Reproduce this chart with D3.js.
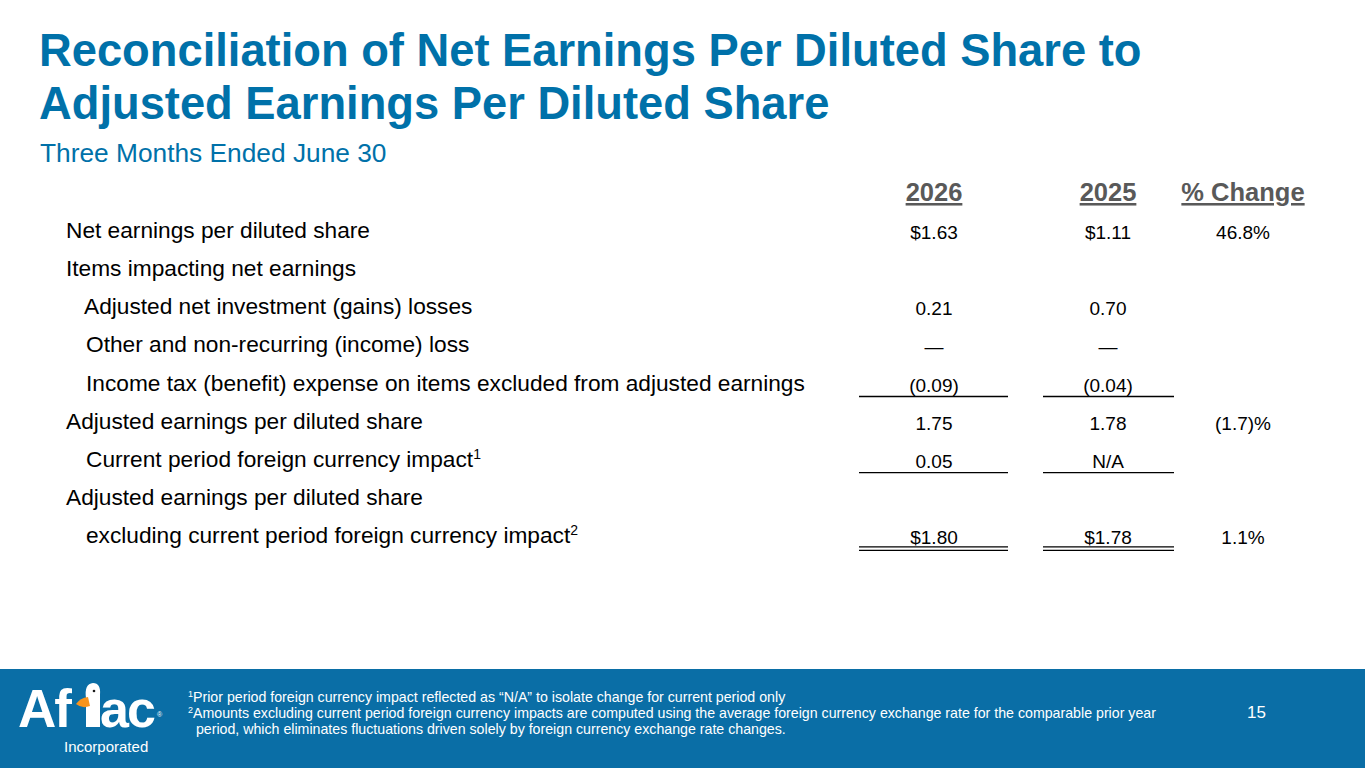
<!doctype html>
<html>
  <head>
    <meta charset="utf-8">
    <title>Reconciliation of Net Earnings Per Diluted Share</title>
    <script src="https://d3js.org/d3.v7.min.js"></script>
    <style>
      body { margin: 0; background: #fff; }
      svg { display: block; font-family: "Liberation Sans", Arial, sans-serif; }
    </style>
  </head>
  <body>
    <script>
      // table content
      const rowLabels = [
        'Net earnings per diluted share',
        'Items impacting net earnings',
        'Adjusted net investment (gains) losses',
        'Other and non-recurring (income) loss',
        'Income tax (benefit) expense on items excluded from adjusted earnings',
        'Adjusted earnings per diluted share',
        'Current period foreign currency impact',
        'Adjusted earnings per diluted share',
        'excluding current period foreign currency impact'
      ];
      const rowIndent = [0, 0, 1, 2, 2, 0, 2, 0, 2];
      const rowNote = ['', '', '', '', '', '', '1', '', '2'];
      const columns = ['2026', '2025', '% Change'];
      const values2026 = ['$1.63', '', '0.21', '\u2014', '(0.09)', '1.75', '0.05', '', '$1.80'];
      const values2025 = ['$1.11', '', '0.70', '\u2014', '(0.04)', '1.78', 'N/A', '', '$1.78'];
      const pctChange = ['46.8%', '', '', '', '', '(1.7)%', '', '', '1.1%'];
      const rowRule = ['', '', '', '', 'single', '', 'single', '', 'double'];

      const footnotes = [
        { n: '1', text: 'Prior period foreign currency impact reflected as \u201cN/A\u201d to isolate change for current period only' },
        { n: '2', text: 'Amounts excluding current period foreign currency impacts are computed using the average foreign currency exchange rate for the comparable prior year' },
        { n: '', text: '  period, which eliminates fluctuations driven solely by foreign currency exchange rate changes.' }
      ];
      const pageNumber = '15';

      const W = 1365, H = 768;
      const blue = '#0071a9';
      const footBlue = '#0a6ea6';

      const svg = d3.select('body').append('svg')
          .attr('width', W)
          .attr('height', H);

      // title
      const title = svg.append('g').attr('fill', blue);
      title.append('text')
          .attr('x', 39).attr('y', 66)
          .attr('font-size', 45.3).attr('font-weight', 'bold')
          .text('Reconciliation of Net Earnings Per Diluted Share to');
      title.append('text')
          .attr('x', 39).attr('y', 119)
          .attr('font-size', 45.3).attr('font-weight', 'bold')
          .text('Adjusted Earnings Per Diluted Share');
      title.append('text')
          .attr('x', 40).attr('y', 162)
          .attr('font-size', 26.3)
          .text('Three Months Ended June 30');

      // scales
      const rows = d3.range(rowLabels.length);
      const y = d3.scaleBand()
          .domain(rows)
          .range([212, 555]);
      const x = d3.scaleOrdinal()
          .domain(columns)
          .range([934, 1108, 1243]);
      const ruleSpan = d3.scaleOrdinal()
          .domain(columns)
          .range([[859, 1008], [1043, 1174], null]);
      const indent = d3.scaleOrdinal().domain([0, 1, 2]).range([66, 84, 86]);
      const base = i => y(i) + y.bandwidth() / 2 + 7;

      // column headers
      svg.append('g')
        .selectAll('text')
        .data(columns)
        .join('text')
          .attr('x', d => x(d))
          .attr('y', 201)
          .attr('text-anchor', 'middle')
          .attr('font-size', 25.5)
          .attr('font-weight', 'bold')
          .attr('fill', '#595959')
          .attr('text-decoration', 'underline')
          .text(d => d);

      // row labels
      const labels = svg.append('g')
        .selectAll('text')
        .data(rows)
        .join('text')
          .attr('x', i => indent(rowIndent[i]))
          .attr('y', i => base(i))
          .attr('font-size', 22.7)
          .attr('fill', '#000');
      labels.append('tspan').text(i => rowLabels[i]);
      labels.append('tspan')
          .attr('dy', -8)
          .attr('font-size', 14)
          .text(i => rowNote[i]);

      // values
      const cols = [values2026, values2025, pctChange];
      columns.forEach((c, ci) => {
        svg.append('g')
          .selectAll('text')
          .data(rows.filter(i => cols[ci][i] !== ''))
          .join('text')
            .attr('x', x(c))
            .attr('y', i => base(i) + 1)
            .attr('text-anchor', 'middle')
            .attr('font-size', 19)
            .attr('fill', '#000')
            .text(i => cols[ci][i]);
      });

      // underline rules
      const ruleG = svg.append('g').attr('stroke', '#000').attr('stroke-width', 1.3);
      rows.filter(i => rowRule[i]).forEach(i => {
        columns.slice(0, 2).forEach(c => {
          const [x0, x1] = ruleSpan(c);
          const ys = rowRule[i] === 'double' ? [base(i) + 4, base(i) + 7.5] : [base(i) + 6];
          ys.forEach(yy => {
            ruleG.append('line')
                .attr('x1', x0).attr('x2', x1)
                .attr('y1', yy).attr('y2', yy);
          });
        });
      });

      // footer band
      const foot = svg.append('g');
      foot.append('rect')
          .attr('x', 0).attr('y', 669)
          .attr('width', W).attr('height', H - 669)
          .attr('fill', footBlue);

      // logo
      const logo = foot.append('g').attr('fill', '#fff');
      logo.append('text')
          .attr('x', 18).attr('y', 727)
          .attr('font-size', 53).attr('font-weight', 'bold')
          .attr('letter-spacing', -2)
          .text('Af');
      // duck forms the "l"
      logo.append('path')
          .attr('d', 'M86,727 L86,698 Q84,684 93,683 Q101,683 100,695 L100,727 Z');
      logo.append('path')
          .attr('d', 'M88,697 Q80,698 76,704 Q82,709 90,706 Z')
          .attr('fill', '#f7941d');
      logo.append('circle')
          .attr('cx', 94).attr('cy', 691).attr('r', 1.3)
          .attr('fill', '#1a1a1a');
      logo.append('text')
          .attr('x', 100).attr('y', 727)
          .attr('font-size', 52).attr('font-weight', 'bold')
          .attr('letter-spacing', -2)
          .text('ac');
      logo.append('text')
          .attr('x', 157).attr('y', 717)
          .attr('font-size', 7)
          .text('\u00ae');
      logo.append('text')
          .attr('x', 64).attr('y', 752)
          .attr('font-size', 15)
          .text('Incorporated');

      // footnotes
      const fn = foot.append('g')
        .selectAll('text')
        .data(footnotes)
        .join('text')
          .attr('x', 188)
          .attr('y', (d, i) => 702 + i * 16)
          .attr('font-size', 14.2)
          .attr('fill', '#fff')
          .style('white-space', 'pre');
      fn.append('tspan')
          .attr('dy', -5)
          .attr('font-size', 9)
          .text(d => d.n);
      fn.append('tspan')
          .attr('dy', d => d.n ? 5 : 0)
          .text(d => d.text);

      foot.append('text')
          .attr('x', 1266).attr('y', 718)
          .attr('text-anchor', 'end')
          .attr('font-size', 17)
          .attr('fill', '#fff')
          .text(pageNumber);
    </script>
  </body>
</html>
